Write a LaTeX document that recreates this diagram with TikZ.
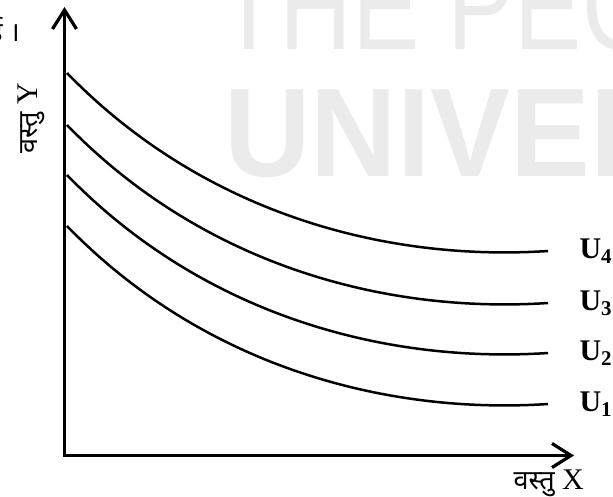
\documentclass[tikz,border=0pt]{standalone}
\usepackage{fontspec}
\usepackage{graphicx}
\setmainfont{Liberation Serif}
\setsansfont{Liberation Sans}
\newfontfamily\hindifont[Script=Devanagari,Scale=0.9]{Noto Sans}
\usetikzlibrary{arrows.meta, positioning}

\begin{document}
\begin{tikzpicture}[
      x=1pt, y=-1pt,
      axis/.style={line width=3.2pt, line join=miter, {Straight Barb[length=19pt,width=24pt]}-{Straight Barb[length=19pt,width=24pt]}},
      icurve/.style={line width=2.5pt},
      ulabel/.style={font=\fontsize{30}{34}\selectfont\bfseries},
      hindi/.style={inner sep=0pt, font=\fontsize{30}{34}\selectfont},
      watermark/.style={inner sep=0pt, anchor=base west, text=black!8, font=\fontsize{126}{130}\selectfont\sffamily}
    ]
    \useasboundingbox (0,0) rectangle (613,497);

    % faint watermark behind the graph
    \node[watermark] (wtop) at (218,50) {\scalebox{0.8}[1]{THE PEOPLE'S}};
    \node[watermark] (wbot) at (224,177) {\scalebox{0.95}[1]{\bfseries UNIVERSITY}};

    % axes
    \coordinate (O) at (64.5,455.5);
    \coordinate (ytip) at (64.5,7);
    \coordinate (xtip) at (574,455.5);
    \draw[axis] (ytip) -- (O) -- (xtip);

    % indifference curves
    \foreach \dy/\k in {0/4, 52/3, 102/2, 153/1} {
      \draw[icurve] (67,73+\dy) .. controls (200,210+\dy) and (380,262+\dy) .. (548,251+\dy) coordinate (e\k);
      \node[ulabel, right=28pt of e\k] (u\k) {U\textsubscript{\k}};
    }

    % axis labels
    \node[hindi, anchor=base east] (xlab) at (584,489) {{\hindifont वस्तु} X};
    \node[hindi, rotate=90, anchor=base east] (ylab) at (37,83) {{\hindifont वस्तु} Y};
    \node[hindi, anchor=base east] (cut) at (20,42) {\hindifont ई ।};
  \end{tikzpicture}
\end{document}
